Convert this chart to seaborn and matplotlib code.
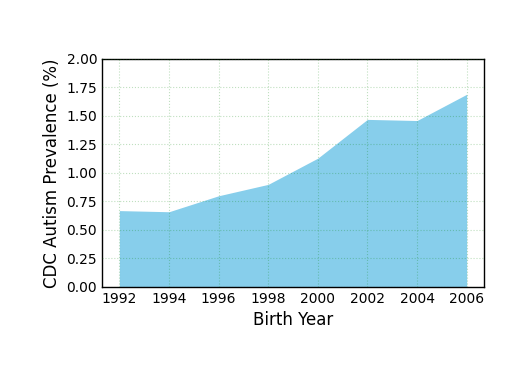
import matplotlib
matplotlib.use("Agg")
import matplotlib.pyplot as plt
import seaborn as sns
import pandas as pd

# CDC autism prevalence by birth year (%)
years = [1992, 1994, 1996, 1998, 2000, 2002, 2004, 2006]
prevalence = [0.67, 0.66, 0.80, 0.90, 1.13, 1.47, 1.46, 1.69]

df = pd.DataFrame({"Birth Year": years, "Prevalence": prevalence})

sns.set_style("white")
plt.rcParams["font.family"] = ["DejaVu Sans"]
plt.rcParams["text.color"] = "black"
plt.rcParams["axes.labelcolor"] = "black"

fig = plt.figure(figsize=(5.09, 3.73), dpi=100)
ax = fig.add_axes([0.2004, 0.2306, 0.7505, 0.6113])

sns.lineplot(data=df, x="Birth Year", y="Prevalence", ax=ax, linewidth=0)
ax.fill_between(df["Birth Year"], df["Prevalence"], color="skyblue", linewidth=0)

ax.set_ylim(0, 2.0)
ax.set_xticks(years)
ax.set_yticks([0, 0.25, 0.5, 0.75, 1.0, 1.25, 1.5, 1.75, 2.0])
ax.set_yticklabels([f"{v:.2f}" for v in ax.get_yticks()])
ax.set_axisbelow(False)
ax.grid(True, color="green", linestyle=":", linewidth=0.8, alpha=0.25)
ax.tick_params(direction="in", length=4, width=1, labelsize=10, colors="black")
for s in ax.spines.values():
    s.set_color("black")
    s.set_linewidth(1.0)

ax.set_xlabel("Birth Year", fontsize=12, color="black")
ax.set_ylabel("CDC Autism Prevalence (%)", fontsize=12, color="black")

fig.savefig("out.png", dpi=100)
